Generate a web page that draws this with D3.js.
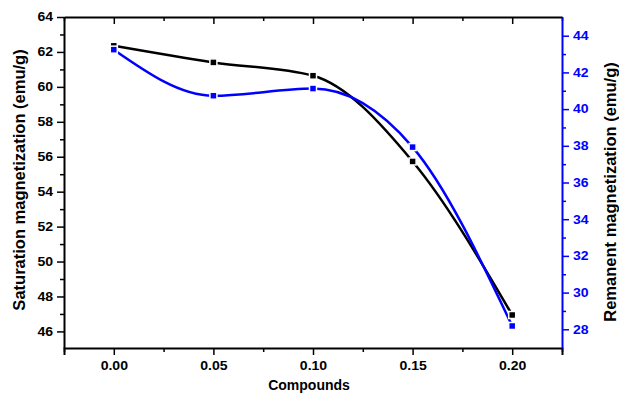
<!DOCTYPE html>
<html>
<head>
<meta charset="utf-8">
<script src="https://cdn.jsdelivr.net/npm/d3@7"></script>
<style>
  body { margin: 0; background: #fff; }
  svg text { font-family: "Liberation Sans", Arial, sans-serif; font-weight: bold; }
</style>
</head>
<body>
<div id="chart"></div>
<script>
// compound fraction x and the two magnetizations
var compounds = [0.00, 0.05, 0.10, 0.15, 0.20];
var saturation = [62.35, 61.4, 60.64, 55.73, 46.94];
var remanent = [43.24, 40.73, 41.12, 37.93, 28.18];

var xTicks = [0.00, 0.05, 0.10, 0.15, 0.20];
var xMinor = [-0.025, 0.025, 0.075, 0.125, 0.175, 0.225];
var leftTicks = [46, 48, 50, 52, 54, 56, 58, 60, 62, 64];
var leftMinor = [47, 49, 51, 53, 55, 57, 59, 61, 63];
var rightTicks = [28, 30, 32, 34, 36, 38, 40, 42, 44];
var rightMinor = [29, 31, 33, 35, 37, 39, 41, 43];

var width = 619, height = 395;
var margin = {top: 17, right: 57, bottom: 47, left: 64};

var svg = d3.select("#chart").append("svg")
    .attr("width", width)
    .attr("height", height);

var x = d3.scaleLinear().domain([-0.025, 0.225]).range([margin.left, width - margin.right]);
var yL = d3.scaleLinear().domain([45.05, 64]).range([height - margin.bottom, margin.top]);
var yR = d3.scaleLinear().domain([26.98, 45.02]).range([height - margin.bottom, margin.top]);

var blue = "#0000ff";

// tick labels in the original are a bit wide, stretch them
function wide(g) {
    g.selectAll("text").style("font-size", "12px").each(function() {
        var w = this.getComputedTextLength();
        d3.select(this).attr("textLength", w * 1.17).attr("lengthAdjust", "spacingAndGlyphs");
    });
}

// bottom axis, major + minor
svg.append("g")
    .attr("transform", "translate(0," + yL.range()[0] + ")")
    .call(d3.axisBottom(x).tickValues(xTicks).tickFormat(d3.format(".2f")).tickSize(7).tickPadding(6))
    .call(wide);
svg.append("g")
    .attr("transform", "translate(0," + yL.range()[0] + ")")
    .call(d3.axisBottom(x).tickValues(xMinor).tickFormat("").tickSize(4))
    .call(function(g) { g.select(".domain").remove(); });

// top axis, ticks inward
svg.append("g")
    .attr("transform", "translate(0," + margin.top + ")")
    .call(d3.axisBottom(x).tickValues(xTicks).tickFormat("").tickSize(7).tickSizeOuter(0));
svg.append("g")
    .attr("transform", "translate(0," + margin.top + ")")
    .call(d3.axisBottom(x).tickValues(xMinor).tickFormat("").tickSize(4))
    .call(function(g) { g.select(".domain").remove(); });

// left axis
svg.append("g")
    .attr("transform", "translate(" + margin.left + ",0)")
    .call(d3.axisLeft(yL).tickValues(leftTicks).tickSize(7).tickSizeOuter(0).tickPadding(4))
    .call(wide);
svg.append("g")
    .attr("transform", "translate(" + margin.left + ",0)")
    .call(d3.axisLeft(yL).tickValues(leftMinor).tickFormat("").tickSize(4))
    .call(function(g) { g.select(".domain").remove(); });

// right axis (blue)
var rAx = svg.append("g")
    .attr("transform", "translate(" + (width - margin.right) + ",0)")
    .call(d3.axisRight(yR).tickValues(rightTicks).tickSize(7).tickSizeOuter(0).tickPadding(4))
    .call(wide);
rAx.selectAll("text").attr("fill", blue);
rAx.selectAll("line").attr("stroke", blue);
rAx.select(".domain").attr("stroke", blue);
var rAx2 = svg.append("g")
    .attr("transform", "translate(" + (width - margin.right) + ",0)")
    .call(d3.axisRight(yR).tickValues(rightMinor).tickFormat("").tickSize(4));
rAx2.select(".domain").remove();
rAx2.selectAll("line").attr("stroke", blue);

svg.selectAll(".domain").attr("stroke-width", 2);
svg.selectAll(".tick line").attr("stroke-width", 1.5);

// curves
var lineL = d3.line()
    .x(function(d, i) { return x(compounds[i]); })
    .y(function(d) { return yL(d); })
    .curve(d3.curveMonotoneX);
var lineR = d3.line()
    .x(function(d, i) { return x(compounds[i]); })
    .y(function(d) { return yR(d); })
    .curve(d3.curveMonotoneX);

svg.append("path").datum(saturation)
    .attr("d", lineL).attr("fill", "none").attr("stroke", "#000").attr("stroke-width", 2.5);
svg.append("path").datum(remanent)
    .attr("d", lineR).attr("fill", "none").attr("stroke", blue).attr("stroke-width", 2.5);

var ms = 7;
svg.append("g").selectAll("rect").data(saturation).enter().append("rect")
    .attr("x", function(d, i) { return x(compounds[i]) - ms / 2; })
    .attr("y", function(d) { return yL(d) - ms / 2; })
    .attr("width", ms).attr("height", ms)
    .attr("fill", "#000").attr("stroke", "#fff").attr("stroke-width", 1.5);
svg.append("g").selectAll("rect").data(remanent).enter().append("rect")
    .attr("x", function(d, i) { return x(compounds[i]) - ms / 2; })
    .attr("y", function(d) { return yR(d) - ms / 2; })
    .attr("width", ms).attr("height", ms)
    .attr("fill", blue).attr("stroke", "#fff").attr("stroke-width", 1.5);

// titles
svg.append("text")
    .attr("transform", "translate(25,180) rotate(-90)")
    .attr("text-anchor", "middle")
    .style("font-size", "16.5px")
    .text("Saturation magnetization (emu/g)");
svg.append("text")
    .attr("transform", "translate(616,192) rotate(-90)")
    .attr("text-anchor", "middle")
    .style("font-size", "16.5px")
    .text("Remanent magnetization (emu/g)");
svg.append("text")
    .attr("x", 309)
    .attr("y", 390)
    .attr("text-anchor", "middle")
    .style("font-size", "14px")
    .text("Compounds");
</script>
</body>
</html>
